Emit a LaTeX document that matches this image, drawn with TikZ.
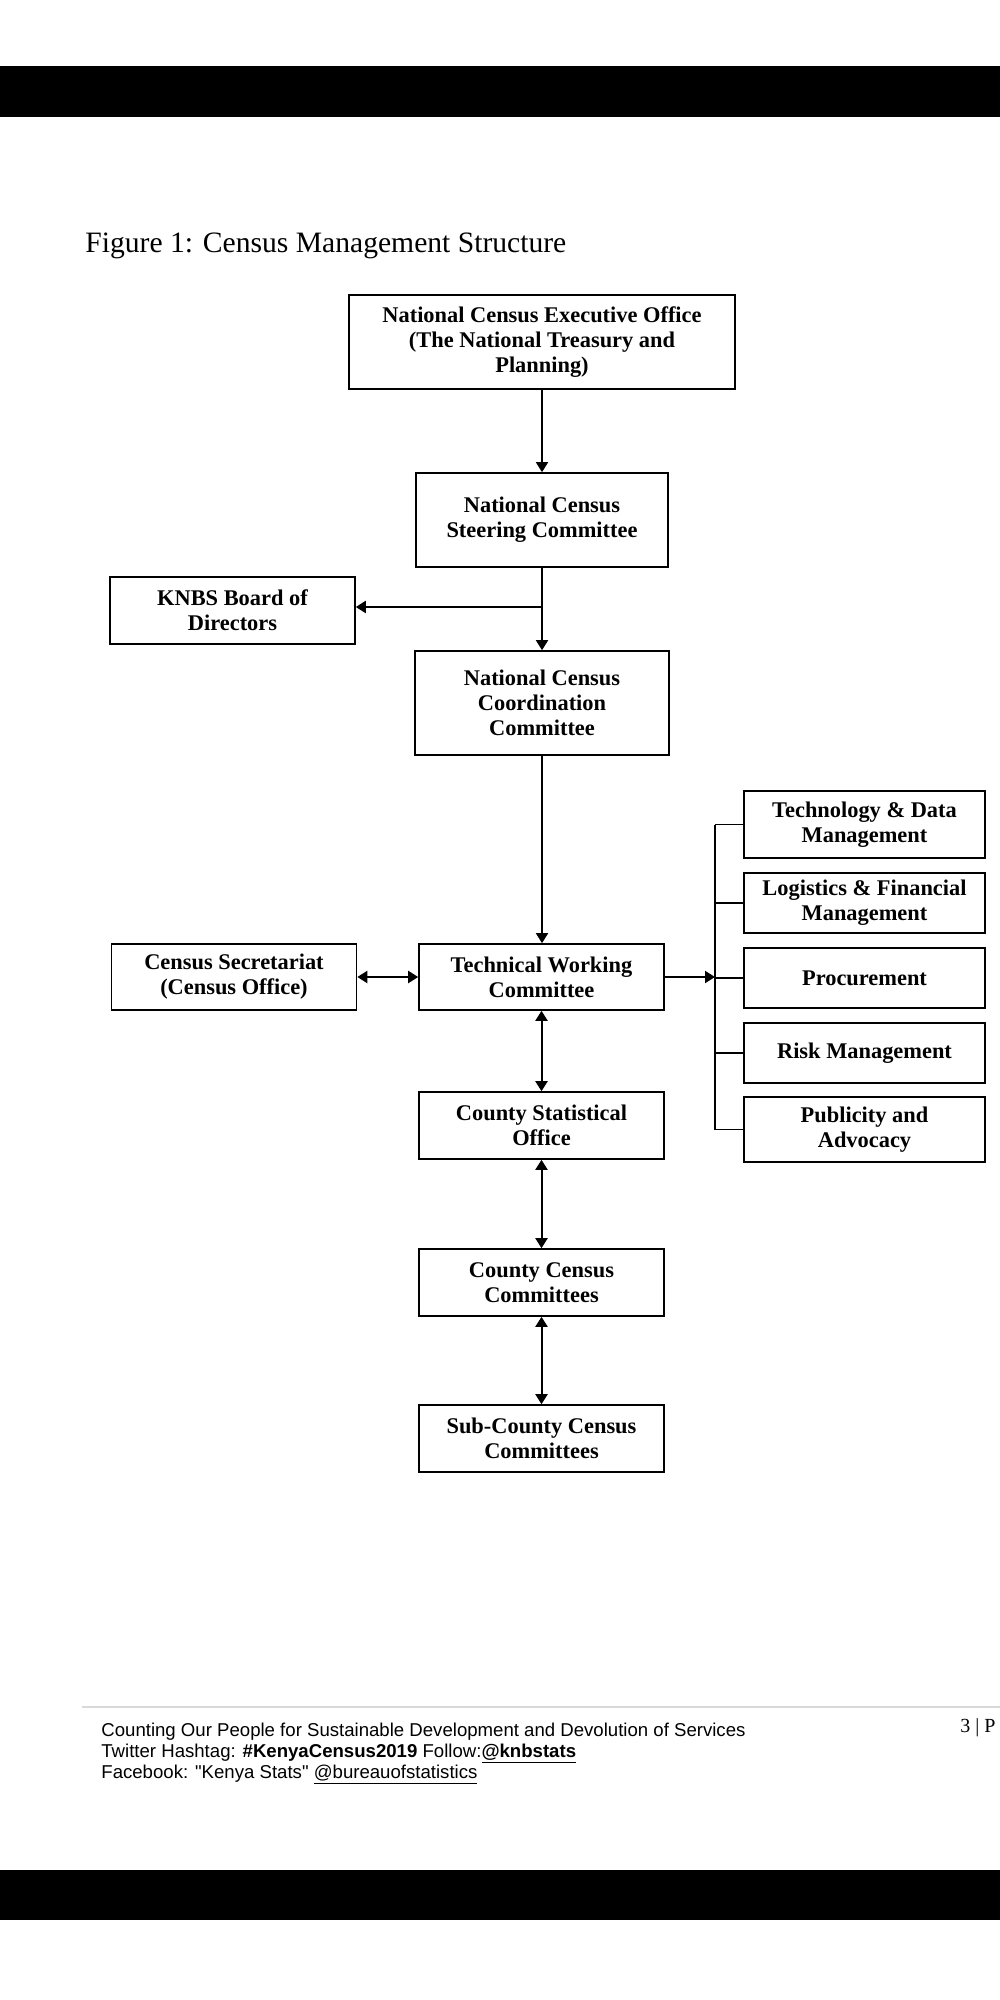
\documentclass[tikz,border=0pt]{standalone}
\usepackage{fontspec}
\setmainfont{Liberation Serif}
\newfontfamily\footfont{Liberation Sans}
\usetikzlibrary{arrows.meta}

\begin{document}
\begin{tikzpicture}[x=0.5pt,y=-0.5pt]
    \tikzstyle{box}=[rectangle,draw,line width=0.8pt,align=center,inner sep=0pt,font=\fontsize{11.2}{12.5}\selectfont\bfseries]
    \tikzstyle{wide}=[box,minimum width=122.5pt,minimum height=33pt]
    \tikzstyle{unit}=[box,minimum width=120.5pt,minimum height=30pt]
    \tikzstyle{link}=[line width=0.8pt,-{Triangle[length=5pt,width=6pt]}]
    \tikzstyle{twoway}=[line width=1pt,{Triangle[length=5pt,width=6pt]}-{Triangle[length=5pt,width=6pt]}]
    \tikzstyle{branch}=[line width=0.8pt]
    \tikzstyle{foot}=[anchor=base west,inner sep=0pt,font=\footfont\fontsize{9.3}{11}\selectfont]
    \useasboundingbox (0,0) rectangle (1000,2000);
    \fill (0,66) rectangle (1000,117);
    \fill (0,1870) rectangle (1000,1920);
    \node (title) at (85,253) [anchor=base west,inner sep=0pt,font=\fontsize{14.8}{17}\selectfont] {Figure 1: Census Management Structure};
    % main chain
    \node (nceo) at (542,342)    [box,minimum width=193pt,minimum height=47pt] {National Census Executive Office\\(The National Treasury and\\Planning)};
    \node (ncsc) at (542,520)    [box,minimum width=126pt,minimum height=47pt] {National Census\\Steering Committee};
    \node (knbs) at (232.5,610.5) [box,minimum width=122.5pt,minimum height=33.5pt] {KNBS Board of\\Directors};
    \node (nccc) at (542,703)    [box,minimum width=127pt,minimum height=52pt] {National Census\\Coordination\\Committee};
    \node (twc)  at (541.5,977)  [wide] {Technical Working\\Committee};
    \node (sec)  at (234,977)    [wide] {Census Secretariat\\(Census Office)};
    \node (cso)  at (541.5,1125.5) [wide,minimum height=33.5pt] {County Statistical\\Office};
    \node (ccc)  at (541.5,1282.5) [wide,minimum height=33.5pt] {County Census\\Committees};
    \node (sccc) at (541.5,1438.5) [wide,minimum height=33.5pt] {Sub-County Census\\Committees};
    % sub-committees of the working committee
    \node (tech) at (864.5,824.5) [unit,minimum height=33.5pt] {Technology \& Data\\Management};
    \node (logi) at (864.5,903)   [unit] {Logistics \& Financial\\Management};
    \node (proc) at (864.5,978)   [unit] {Procurement};
    \node (risk) at (864.5,1053)  [unit] {Risk Management};
    \node (pub)  at (864.5,1129.5) [unit,minimum height=32.5pt] {Publicity and\\Advocacy};
    \coordinate (split) at (542,607);
    \coordinate (bus) at (715,977);
    \draw [link] (nceo) -- (ncsc);
    \draw [link] (ncsc) -- (nccc);
    \draw [link,line width=1pt] (split) -- (split -| knbs.east);
    \draw [link] (nccc.south) -- (nccc.south |- twc.north);
    \draw [twoway] (sec) -- (twc);
    \draw [link,line width=1pt] (twc.east) -- (bus);
    \draw [twoway] (twc) -- (cso);
    \draw [twoway] (cso) -- (ccc);
    \draw [twoway] (ccc) -- (sccc);
    \draw [branch] (bus |- tech.west) -- (bus |- pub.west);
    \draw [branch] (bus |- tech.west) -- (tech.west);
    \draw [branch] (bus |- logi.west) -- (logi.west);
    \draw [branch] (bus |- proc.west) -- (proc.west);
    \draw [branch] (bus |- risk.west) -- (risk.west);
    \draw [branch] (bus |- pub.west)  -- (pub.west);
    % page footer
    \draw [gray!30,line width=1pt] (82,1707) -- (1000,1707);
    \node (foot1) at (101,1736) [foot] {Counting Our People for Sustainable Development and Devolution of Services};
    \node (foot2) at (101,1757) [foot] {Twitter Hashtag: \textbf{\#KenyaCensus2019} Follow:\underline{\textbf{@knbstats}}};
    \node (foot3) at (101,1778) [foot] {Facebook: "Kenya Stats" \underline{@bureauofstatistics}};
    \node (page)  at (960,1732) [anchor=base west,inner sep=0pt,font=\fontsize{10}{12}\selectfont] {3 | P};
\end{tikzpicture}
\end{document}
